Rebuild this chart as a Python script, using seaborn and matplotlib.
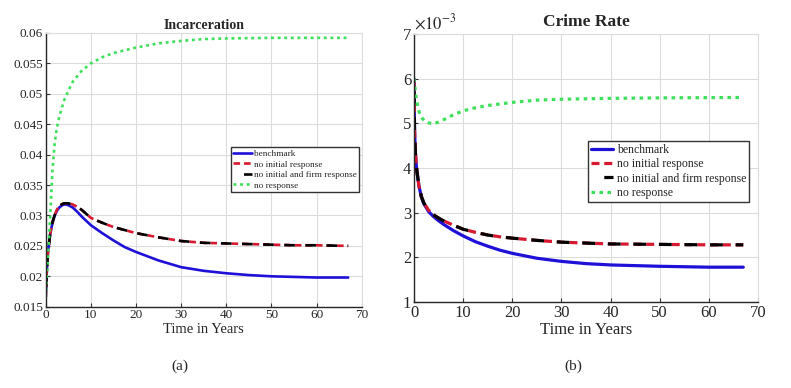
import matplotlib
matplotlib.use("Agg")

import pandas as pd
import seaborn as sns
import matplotlib.pyplot as plt

# values
# incarceration panel
t_inc = [0, 0.25, 0.5, 1, 1.5, 2, 2.5, 3, 3.5, 4, 4.5, 5, 6, 7, 8, 10, 12.5, 15, 17.5, 20,
         25, 30, 35, 40, 45, 50, 55, 60, 67]
inc_bench = [0.0165, 0.0210, 0.0240, 0.0270, 0.0288, 0.0300, 0.0308, 0.0313, 0.0316, 0.0318,
             0.0318, 0.0317, 0.0313, 0.0306, 0.0298, 0.0284, 0.0271, 0.0259, 0.0248, 0.0240,
             0.0226, 0.0215, 0.0209, 0.0205, 0.0202, 0.0200, 0.0199, 0.0198, 0.0198]
inc_noinit = [0.0165, 0.0210, 0.0240, 0.0270, 0.0289, 0.0301, 0.0310, 0.0315, 0.0318, 0.0320,
              0.0320, 0.0320, 0.0318, 0.0314, 0.0309, 0.0296, 0.0288, 0.0281, 0.0276, 0.0271,
              0.0264, 0.0258, 0.0255, 0.0254, 0.0253, 0.0252, 0.0251, 0.0251, 0.0250]
t_inc_g = [0, 0.5, 1, 1.5, 2, 2.5, 3, 4, 5, 6, 8, 10, 12.5, 15, 20, 25, 30, 35, 40, 50, 67]
inc_none = [0.0165, 0.0230, 0.0300, 0.0375, 0.0420, 0.0445, 0.0462, 0.0488, 0.0505, 0.0520,
            0.0538, 0.0550, 0.0560, 0.0567, 0.0576, 0.0583, 0.0587, 0.0590, 0.0591, 0.0592, 0.0592]

# crime rate panel (x 1e-3)
t_cr = [0, 0.1, 0.25, 0.5, 1, 1.5, 2, 3, 4, 5, 6, 8, 10, 12.5, 15, 17.5, 20, 25, 30, 35, 40,
        50, 60, 67]
cr_bench = [6.0, 4.9, 4.4, 4.0, 3.6, 3.35, 3.2, 3.02, 2.91, 2.82, 2.74, 2.60, 2.48, 2.35,
            2.25, 2.16, 2.09, 1.98, 1.91, 1.86, 1.83, 1.80, 1.78, 1.78]
cr_noinit = [6.0, 4.9, 4.4, 4.0, 3.6, 3.36, 3.22, 3.05, 2.95, 2.88, 2.82, 2.72, 2.63, 2.56,
             2.50, 2.46, 2.43, 2.38, 2.34, 2.32, 2.30, 2.29, 2.28, 2.28]
t_cr_g = [0, 0.2, 0.4, 0.8, 1.2, 1.7, 2.2, 3, 4, 5, 6.2, 8, 10, 12.5, 15, 20, 25, 30, 40, 50, 67]
cr_none = [6.0, 5.8, 5.6, 5.35, 5.2, 5.11, 5.05, 5.01, 4.99, 5.03, 5.09, 5.19, 5.28, 5.35,
           5.40, 5.47, 5.52, 5.54, 5.56, 5.57, 5.58]

labels = ["benchmark", "no initial response", "no initial and firm response", "no response"]

sns.set_style("whitegrid")
plt.rcParams["font.family"] = ["Liberation Serif", "DejaVu Serif"]
plt.rcParams["mathtext.fontset"] = "stix"

fig = plt.figure(figsize=(7.91, 3.88), dpi=100)
ax1 = fig.add_axes([0.0578, 0.2095, 0.3995, 0.7055])
ax2 = fig.add_axes([0.5234, 0.2216, 0.4349, 0.6907])


def draw(ax, t, bench, noinit, tg, none, lw):
    sns.lineplot(x=t, y=bench, ax=ax, color="#1f10d8", lw=lw, label=labels[0])
    sns.lineplot(x=t, y=noinit, ax=ax, color="#d8182e", lw=lw, label=labels[1],
                 linestyle=(0, (2.5, 1.5)))
    sns.lineplot(x=t, y=noinit, ax=ax, color="black", lw=lw, label=labels[2],
                 linestyle=(4, (4, 4)))
    sns.lineplot(x=tg, y=none, ax=ax, color="#3de05a", lw=lw, label=labels[3],
                 linestyle=(0, (1.1, 1.4)))


draw(ax1, t_inc, inc_bench, inc_noinit, t_inc_g, inc_none, 1.9)
draw(ax2, t_cr, cr_bench, cr_noinit, t_cr_g, cr_none, 2.3)

for ax, fs in [(ax1, 9.5), (ax2, 12)]:
    ax.set_xlim(0, 70)
    ax.set_xticks(range(0, 71, 10))
    ax.grid(True, color="#dcdcdc", lw=0.8)
    ax.tick_params(axis="both", direction="in", length=3, labelsize=fs, pad=2,
                   left=True, bottom=True, color="#333333")
    for s in ["left", "bottom"]:
        ax.spines[s].set_color("#262626")
        ax.spines[s].set_linewidth(1.0)
    for s in ["top", "right"]:
        ax.spines[s].set_color("#dcdcdc")
        ax.spines[s].set_linewidth(0.8)

ax1.set_ylim(0.015, 0.06)
ax1.set_yticks([0.015, 0.02, 0.025, 0.03, 0.035, 0.04, 0.045, 0.05, 0.055, 0.06])
ax1.set_yticklabels(["0.015", "0.02", "0.025", "0.03", "0.035", "0.04", "0.045", "0.05", "0.055", "0.06"])
ax1.set_title("Incarceration", fontsize=10, fontweight="bold", pad=3)
ax1.set_xlabel("Time in Years", fontsize=10.5, labelpad=1)

ax2.set_ylim(1, 7)
ax2.set_yticks(range(1, 8))
ax2.set_title("Crime Rate", fontsize=12.5, fontweight="bold", pad=6)
ax2.set_xlabel("Time in Years", fontsize=12, labelpad=1)
ax2.text(0.0, 1.005, r"$\times10^{-3}$", transform=ax2.transAxes, fontsize=12,
         ha="left", va="bottom")

leg1 = ax1.legend(loc="upper left", bbox_to_anchor=(0.586, 0.583), fontsize=6.7,
                  handlelength=2.0, handletextpad=0.25, borderpad=0.25, labelspacing=0.22,
                  fancybox=False, framealpha=1, edgecolor="#333333", borderaxespad=0)
leg2 = ax2.legend(loc="upper left", bbox_to_anchor=(0.506, 0.601), fontsize=8.5,
                  handlelength=1.9, handletextpad=0.3, borderpad=0.25, labelspacing=0.2,
                  fancybox=False, framealpha=1, edgecolor="#333333", borderaxespad=0)
for leg in (leg1, leg2):
    leg.get_frame().set_linewidth(1.0)

fig.text(0.2275, 0.047, "(a)", fontsize=11, ha="center")
fig.text(0.7245, 0.047, "(b)", fontsize=11, ha="center")

plt.savefig("out.png", dpi=100)
plt.close()
